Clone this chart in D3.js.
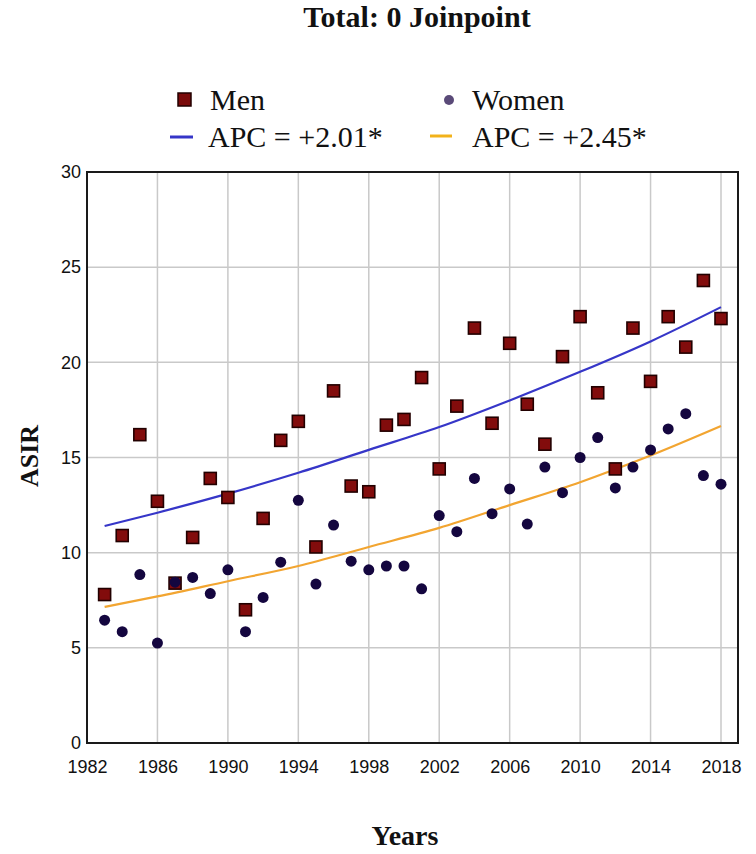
<!DOCTYPE html>
<html lang="en">
  <head>
    <meta charset="UTF-8" />
    <title>Total: 0 Joinpoint</title>
    <script src="https://cdnjs.cloudflare.com/ajax/libs/d3/7.8.5/d3.min.js"></script>
    <style>
      body {
        margin: 0;
        background: #fff;
      }
      .serif {
        font-family: "Liberation Serif", "Times New Roman", serif;
      }
      .tick-label {
        font-family: "Liberation Sans Narrow", "Liberation Sans", Arial, sans-serif;
        font-size: 18px;
        fill: #111;
      }
      .grid line {
        stroke: #c9c9c9;
        stroke-width: 1.5;
      }
    </style>
  </head>
  <body>
    <div id="chart"></div>
    <script>
      // years and observed ASIR values
      const years = [
        1983, 1984, 1985, 1986, 1987, 1988, 1989, 1990, 1991, 1992, 1993, 1994,
        1995, 1996, 1997, 1998, 1999, 2000, 2001, 2002, 2003, 2004, 2005, 2006,
        2007, 2008, 2009, 2010, 2011, 2012, 2013, 2014, 2015, 2016, 2017, 2018,
      ];
      const men = [
        7.8, 10.9, 16.2, 12.7, 8.4, 10.8, 13.9, 12.9, 7.0, 11.8, 15.9, 16.9,
        10.3, 18.5, 13.5, 13.2, 16.7, 17.0, 19.2, 14.4, 17.7, 21.8, 16.8, 21.0,
        17.8, 15.7, 20.3, 22.4, 18.4, 14.4, 21.8, 19.0, 22.4, 20.8, 24.3, 22.3,
      ];
      const women = [
        6.45, 5.85, 8.85, 5.25, 8.45, 8.7, 7.85, 9.1, 5.85, 7.65, 9.5, 12.75,
        8.35, 11.45, 9.55, 9.1, 9.3, 9.3, 8.1, 11.95, 11.1, 13.9, 12.05, 13.35,
        11.5, 14.5, 13.15, 15.0, 16.05, 13.4, 14.5, 15.4, 16.5, 17.3, 14.05, 13.6,
      ];

      // fitted joinpoint trend, read at these years
      const trendYears = [1983, 1986, 1990, 1994, 1998, 2002, 2006, 2010, 2014, 2018];
      const menTrend = [11.4, 12.1, 13.1, 14.2, 15.4, 16.6, 18.0, 19.5, 21.1, 22.9];
      const womenTrend = [7.15, 7.7, 8.5, 9.3, 10.3, 11.3, 12.5, 13.7, 15.1, 16.65];

      const xTicks = [1982, 1986, 1990, 1994, 1998, 2002, 2006, 2010, 2014, 2018];
      const yTicks = [0, 5, 10, 15, 20, 25, 30];

      const legendLabels = ["Men", "Women", "APC = +2.01*", "APC = +2.45*"];

      const W = 756;
      const H = 854;
      const plot = { left: 87, right: 738, top: 172, bottom: 743 };

      const svg = d3
        .select("#chart")
        .append("svg")
        .attr("width", W)
        .attr("height", H);

      svg.append("rect").attr("width", W).attr("height", H).attr("fill", "#fff");

      const x = d3.scaleLinear().domain([1982, 2018]).range([87, 721]);
      const y = d3.scaleLinear().domain([0, 30]).range([plot.bottom, plot.top]);

      // grid
      const grid = svg.append("g").attr("class", "grid");
      grid
        .selectAll(".vg")
        .data(xTicks.slice(1))
        .enter()
        .append("line")
        .attr("x1", (d) => x(d))
        .attr("x2", (d) => x(d))
        .attr("y1", plot.top)
        .attr("y2", plot.bottom);
      grid
        .selectAll(".hg")
        .data(yTicks.slice(1, -1))
        .enter()
        .append("line")
        .attr("x1", plot.left)
        .attr("x2", plot.right)
        .attr("y1", (d) => y(d))
        .attr("y2", (d) => y(d));

      // frame
      svg
        .append("rect")
        .attr("x", plot.left)
        .attr("y", plot.top)
        .attr("width", plot.right - plot.left)
        .attr("height", plot.bottom - plot.top)
        .attr("fill", "none")
        .attr("stroke", "#1a1a1a")
        .attr("stroke-width", 2);

      // axes (labels only)
      const yAxis = svg
        .append("g")
        .attr("transform", `translate(${plot.left - 4},0)`)
        .call(d3.axisLeft(y).tickValues(yTicks).tickSize(0).tickPadding(2));
      yAxis.select(".domain").remove();
      yAxis.selectAll("text").attr("class", "tick-label").attr("font-size", null).attr("font-family", null);

      const xAxis = svg
        .append("g")
        .attr("transform", `translate(0,${plot.bottom + 14})`)
        .call(
          d3.axisBottom(x).tickValues(xTicks).tickFormat(d3.format("d")).tickSize(0)
        );
      xAxis.select(".domain").remove();
      xAxis.selectAll("text").attr("class", "tick-label").attr("font-size", null).attr("font-family", null);

      // trend curves
      const line = d3
        .line()
        .x((d) => x(d[0]))
        .y((d) => y(d[1]))
        .curve(d3.curveMonotoneX);

      svg
        .append("path")
        .datum(d3.zip(trendYears, womenTrend))
        .attr("d", line)
        .attr("fill", "none")
        .attr("stroke", "#f2a531")
        .attr("stroke-width", 2.2);

      svg
        .append("path")
        .datum(d3.zip(trendYears, menTrend))
        .attr("d", line)
        .attr("fill", "none")
        .attr("stroke", "#3636c8")
        .attr("stroke-width", 2.2);

      // points
      const menData = d3.zip(years, men);
      const womenData = d3.zip(years, women);
      const sq = 12;

      svg
        .selectAll(".men")
        .data(menData)
        .enter()
        .append("rect")
        .attr("class", "men")
        .attr("x", (d) => x(d[0]) - sq / 2)
        .attr("y", (d) => y(d[1]) - sq / 2)
        .attr("width", sq)
        .attr("height", sq)
        .attr("fill", "#820c0c")
        .attr("stroke", "#220000")
        .attr("stroke-width", 1.6);

      svg
        .selectAll(".women")
        .data(womenData)
        .enter()
        .append("circle")
        .attr("class", "women")
        .attr("cx", (d) => x(d[0]))
        .attr("cy", (d) => y(d[1]))
        .attr("r", 5.5)
        .attr("fill", "#14063f");

      // title
      svg
        .append("text")
        .attr("class", "serif")
        .attr("x", 417)
        .attr("y", 27)
        .attr("text-anchor", "middle")
        .attr("font-size", 30)
        .attr("font-weight", "bold")
        .attr("fill", "#111")
        .text("Total: 0 Joinpoint");

      // legend
      const legend = svg.append("g").attr("class", "serif").attr("font-size", 30).attr("fill", "#111");
      legend
        .append("rect")
        .attr("x", 178)
        .attr("y", 93)
        .attr("width", 13)
        .attr("height", 13)
        .attr("fill", "#7a0a0a")
        .attr("stroke", "#200")
        .attr("stroke-width", 1.5);
      legend.append("text").attr("x", 210).attr("y", 110).text(legendLabels[0]);

      legend
        .append("circle")
        .attr("cx", 449)
        .attr("cy", 100)
        .attr("r", 5)
        .attr("fill", "#5a4a78");
      legend.append("text").attr("x", 472).attr("y", 110).text(legendLabels[1]);

      legend
        .append("line")
        .attr("x1", 170)
        .attr("x2", 193)
        .attr("y1", 137)
        .attr("y2", 137)
        .attr("stroke", "#3636c8")
        .attr("stroke-width", 3);
      legend.append("text").attr("x", 208).attr("y", 147).text(legendLabels[2]);

      legend
        .append("line")
        .attr("x1", 430)
        .attr("x2", 452)
        .attr("y1", 136)
        .attr("y2", 136)
        .attr("stroke", "#f2b21a")
        .attr("stroke-width", 3);
      legend.append("text").attr("x", 472).attr("y", 147).text(legendLabels[3]);

      // axis titles
      svg
        .append("text")
        .attr("class", "serif")
        .attr("x", 405)
        .attr("y", 845)
        .attr("text-anchor", "middle")
        .attr("font-size", 28)
        .attr("font-weight", "bold")
        .attr("fill", "#111")
        .text("Years");

      svg
        .append("text")
        .attr("class", "serif")
        .attr("transform", "translate(38,456) rotate(-90)")
        .attr("text-anchor", "middle")
        .attr("font-size", 26)
        .attr("font-weight", "bold")
        .attr("fill", "#111")
        .text("ASIR");
    </script>
  </body>
</html>
